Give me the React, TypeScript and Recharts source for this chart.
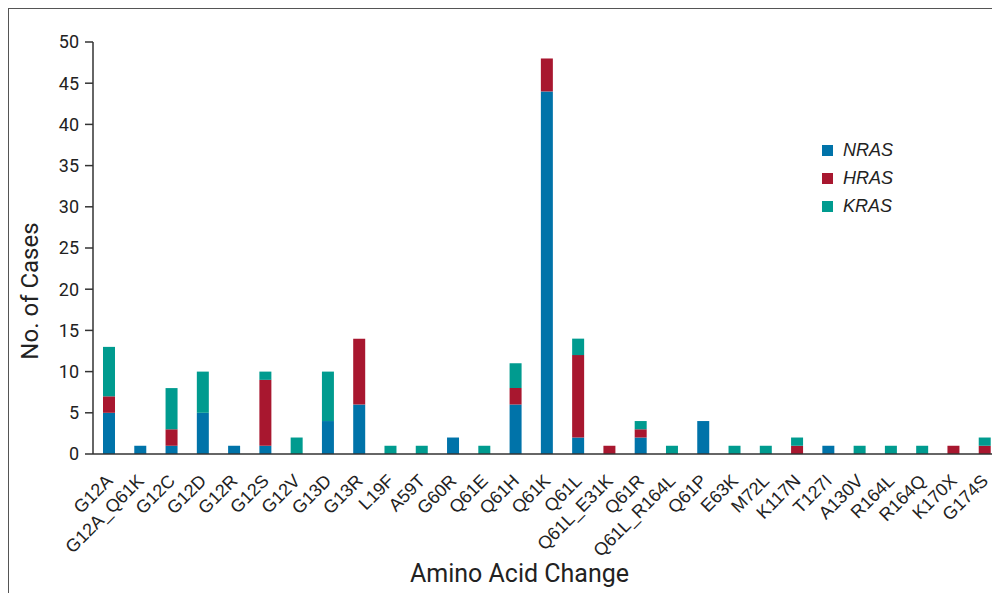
import React from "react";
import { BarChart, Bar, XAxis, YAxis, Label } from "recharts";

const categories = [
  "G12A", "G12A_Q61K", "G12C", "G12D", "G12R", "G12S", "G12V", "G13D", "G13R", "L19F",
  "A59T", "G60R", "Q61E", "Q61H", "Q61K", "Q61L", "Q61L_E31K", "Q61R", "Q61L_R164L", "Q61P",
  "E63K", "M72L", "K117N", "T127I", "A130V", "R164L", "R164Q", "K170X", "G174S",
];
const nras = [5, 1, 1, 5, 1, 1, 0, 4, 6, 0, 0, 2, 0, 6, 44, 2, 0, 2, 0, 4, 0, 0, 0, 1, 0, 0, 0, 0, 0];
const hras = [2, 0, 2, 0, 0, 8, 0, 0, 8, 0, 0, 0, 0, 2, 4, 10, 1, 1, 0, 0, 0, 0, 1, 0, 0, 0, 0, 1, 1];
const kras = [6, 0, 5, 5, 0, 1, 2, 6, 0, 1, 1, 0, 1, 3, 0, 2, 0, 1, 1, 0, 1, 1, 1, 0, 1, 1, 1, 0, 1];
const yTicks = [0, 5, 10, 15, 20, 25, 30, 35, 40, 45, 50];
const genes = ["NRAS", "HRAS", "KRAS"];

const COLORS: Record<string, string> = { NRAS: "#0073a9", HRAS: "#a8172f", KRAS: "#009b8f" };
const AXIS = "#333333";
const NARROW = "'Liberation Sans Narrow', Roboto, sans-serif";

const data = categories.map((c, i) => ({ name: c, NRAS: nras[i], HRAS: hras[i], KRAS: kras[i] }));

function XTick({ x, y, payload }: any) {
  const ax = x + 5;
  const ay = y + 20;
  return (
    <text x={ax} y={ay} transform={`rotate(-45 ${ax} ${ay})`} textAnchor="end"
      fontSize={18} fill="#222" fontFamily="'Liberation Sans', Arial, sans-serif">
      {payload.value}
    </text>
  );
}

export default function App() {
  return (
    <div style={{ position: "relative", width: 992, height: 585, borderTop: "1.5px solid #555", borderLeft: "1.5px solid #555", boxSizing: "border-box" }}>
      <div style={{ position: "absolute", left: -1.5, top: -1.5 }}>
        <BarChart width={992} height={585} data={data} margin={{ top: 34, right: 0, bottom: 0, left: 0 }} barSize={12}>
          <XAxis dataKey="name" interval={0} tickLine={false} height={139}
            axisLine={{ stroke: AXIS, strokeWidth: 1.5 }} tick={<XTick />}>
            <Label content={({ viewBox }: any) => (
              <text x={viewBox.x + viewBox.width / 2 - 27} y={viewBox.y + 128} textAnchor="middle"
                fontSize={25} fill="#222" fontFamily={NARROW}>Amino Acid Change</text>
            )} />
          </XAxis>
          <YAxis width={85} domain={[0, 50]} ticks={yTicks} tickSize={8} tickMargin={6}
            axisLine={{ stroke: AXIS, strokeWidth: 1.5 }} tickLine={{ stroke: AXIS, strokeWidth: 1.5 }}
            tick={{ fontSize: 18, fill: "#222", fontFamily: NARROW }}>
            <Label content={({ viewBox }: any) => {
              const lx = 30;
              const ly = viewBox.y + viewBox.height / 2 + 43;
              return (
                <text x={lx} y={ly} transform={`rotate(-90 ${lx} ${ly})`} textAnchor="middle"
                  fontSize={24} fill="#222" fontFamily={NARROW}>No. of Cases</text>
              );
            }} />
          </YAxis>
          <Bar dataKey="NRAS" stackId="a" fill={COLORS.NRAS} isAnimationActive={false} />
          <Bar dataKey="HRAS" stackId="a" fill={COLORS.HRAS} isAnimationActive={false} />
          <Bar dataKey="KRAS" stackId="a" fill={COLORS.KRAS} isAnimationActive={false} />
        </BarChart>
      </div>
      <div style={{ position: "absolute", left: 813, top: 127 }}>
        {genes.map((g) => (
          <div key={g} style={{ display: "flex", alignItems: "center", height: 28 }}>
            <span style={{ width: 11, height: 11, background: COLORS[g], marginRight: 10 }} />
            <span style={{ fontStyle: "italic", fontSize: 18, color: "#222", fontFamily: "'Liberation Sans', Arial, sans-serif" }}>
              {g}
            </span>
          </div>
        ))}
      </div>
    </div>
  );
}
